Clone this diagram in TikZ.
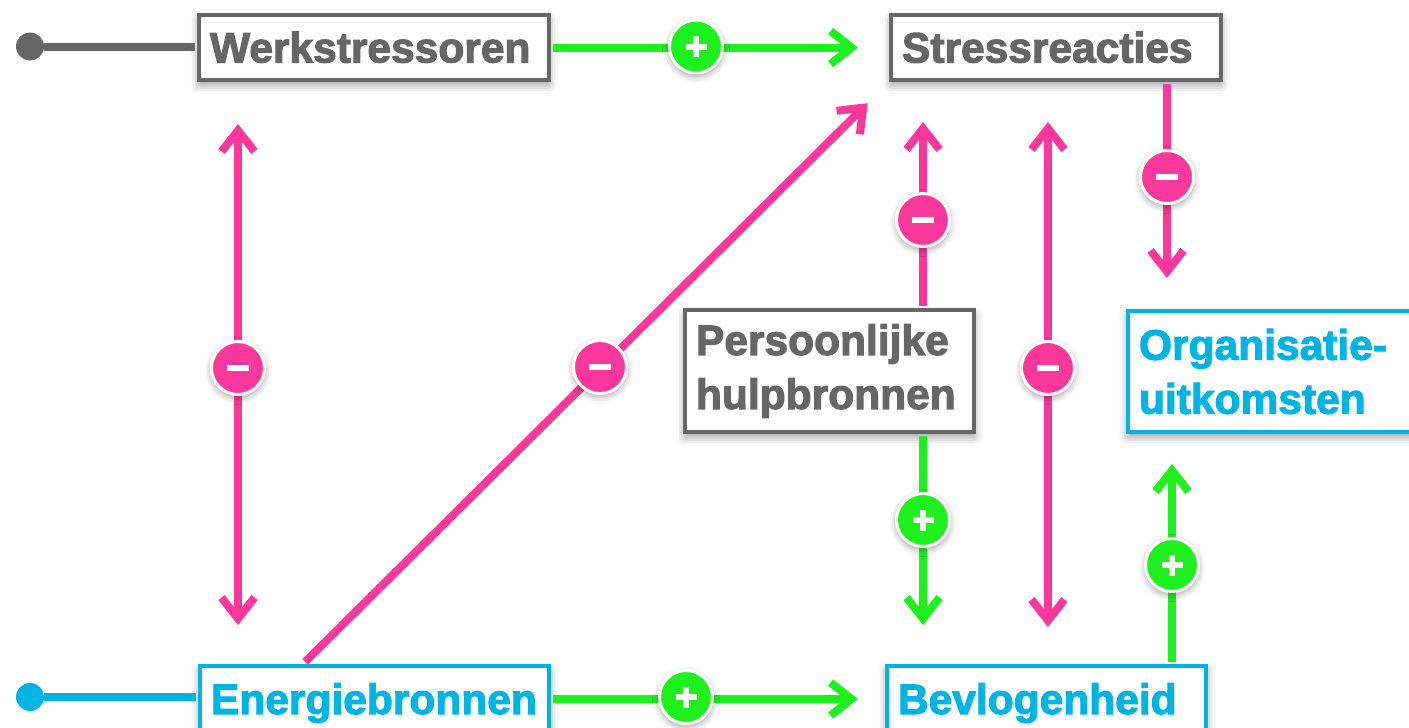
\documentclass[tikz,border=0pt]{standalone}
\usepackage{fontspec}
\setmainfont{Liberation Sans}[BoldFeatures={FakeBold=2.5}]
\usetikzlibrary{arrows.meta,shadows.blur}
\definecolor{tgray}{HTML}{666666}
\definecolor{tcyan}{HTML}{00B4E2}
\definecolor{tgreen}{HTML}{1EF01E}
\definecolor{tpink}{HTML}{FA379B}
\newcommand{\bigbold}{\fontsize{42.5}{54}\selectfont\bfseries}
\tikzset{
  box/.style={draw, line width=4pt, fill=white, anchor=north west, inner sep=0pt,
    font=\bigbold, align=left,
    blur shadow={shadow xshift=0pt, shadow yshift=-5pt, shadow blur radius=9pt, shadow opacity=40}},
  graybox/.style={box, draw=tgray, text=tgray},
  cyanbox/.style={box, draw=tcyan, text=tcyan},
  oneline/.style={text height=34pt, text depth=4pt},
  sign/.style={circle, draw=white, line width=3pt, minimum size=53pt, inner sep=0pt,
    blur shadow={shadow xshift=0pt, shadow yshift=-3pt, shadow blur radius=7pt, shadow opacity=40}},
  minus/.style={sign, fill=tpink, path picture={
    \fill[white] ([shift={(-11pt,-3pt)}]path picture bounding box.center) rectangle ([shift={(11pt,3pt)}]path picture bounding box.center);}},
  plus/.style={sign, fill=tgreen, path picture={
    \fill[white] ([shift={(-10.5pt,-3pt)}]path picture bounding box.center) rectangle ([shift={(10.5pt,3pt)}]path picture bounding box.center);
    \fill[white] ([shift={(-3pt,-10.5pt)}]path picture bounding box.center) rectangle ([shift={(3pt,10.5pt)}]path picture bounding box.center);}},
  barb/.tip={Straight Barb[sharp,length=21pt,width=33pt,line width=8pt]},
  conn/.style={line width=8pt},
  gconn/.style={conn, draw=tgreen, -barb},
  pconn/.style={conn, draw=tpink, -barb},
  pdconn/.style={conn, draw=tpink, barb-barb},
  dot/.style={circle, inner sep=0pt, minimum size=28pt}
}
\begin{document}
\hyphenpenalty=10000
\begin{tikzpicture}[x=1pt,y=-1pt]
\useasboundingbox (0,0) rectangle (1409,728);
% boxes
\node[graybox, oneline, minimum width=350pt, minimum height=65pt, text width=328pt] (werk) at (197,13) {Werkstressoren};
\node[graybox, oneline, minimum width=330pt, minimum height=65pt, text width=308pt] (stress) at (889,13) {Stressreacties};
\node[graybox, minimum width=289pt, minimum height=122pt, text width=267pt] (pers) at (683,308) {Persoonlijke\\hulpbronnen};
\node[cyanbox, minimum width=300pt, minimum height=121pt, text width=278pt] (org) at (1126,309) {Organisatie-\\uitkomsten};
\node[cyanbox, oneline, minimum width=349pt, minimum height=66pt, text width=327pt] (energ) at (198,664) {Energiebronnen};
\node[cyanbox, oneline, minimum width=319pt, minimum height=66pt, text width=297pt] (bev) at (885,664) {Bevlogenheid};
% dots
\node[dot, fill=tgray] (gdot) at (30,46.5) {};
\node[dot, fill=tcyan] (cdot) at (30,697) {};
% column helpers
\coordinate (cA) at (238,0);
\coordinate (cB) at (923,0);
\coordinate (cC) at (1048,0);
\coordinate (cD) at (1167,0);
\coordinate (cE) at (1172,0);
% connectors
\draw[conn, tgray, shorten >=2pt] (gdot) -- (gdot -| werk.west);
\draw[conn, tcyan, shorten >=2pt] (cdot) -- (cdot -| energ.west);
\draw[gconn, shorten <=2pt, shorten >=31pt] (werk.east) -- (stress.west);
\draw[gconn, shorten <=2pt, shorten >=27pt] (energ.east) -- (bev.west);
\draw[pdconn, shorten <=42pt, shorten >=39pt] (werk.south -| cA) -- (energ.north -| cA);
\draw[pconn, shorten <=3pt, shorten >=30pt] ([xshift=105pt]energ.north west) -- (stress.south west);
\draw[pconn, shorten <=2pt, shorten >=40pt] (pers.north -| cB) -- (stress.south -| cB);
\draw[gconn, shorten <=2pt, shorten >=39pt] (pers.south -| cB) -- (bev.north -| cB);
\draw[pdconn, shorten <=40pt, shorten >=37pt] (stress.south -| cC) -- (bev.north -| cC);
\draw[pconn, shorten <=2pt, shorten >=31pt] (stress.south -| cD) -- (org.north -| cD);
\draw[gconn, shorten <=2pt, shorten >=30pt] (bev.north -| cE) -- (org.south -| cE);
% signs
\node[plus] (s1) at (696,46.5) {};
\node[plus] (s2) at (686,697) {};
\node[minus] (s3) at (238,368) {};
\node[minus] (s4) at (600,367) {};
\node[minus] (s5) at (923,220) {};
\node[plus] (s6) at (923,520) {};
\node[minus] (s7) at (1048,368) {};
\node[minus] (s8) at (1167,177) {};
\node[plus] (s9) at (1172,565) {};
\end{tikzpicture}
\end{document}
